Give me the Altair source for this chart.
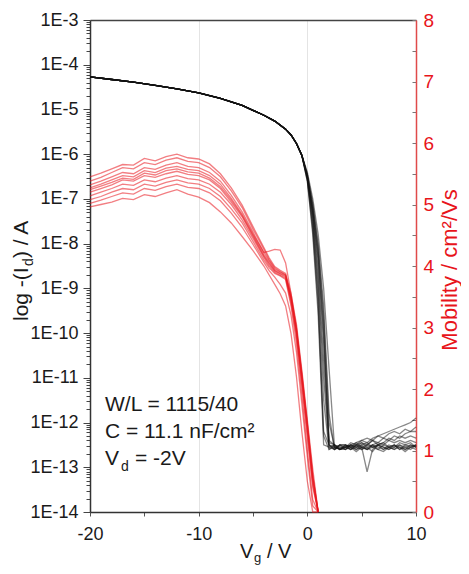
import altair as alt
import pandas as pd

# ---------------- data ----------------
# transfer curves: log10(-Id)
X_ON = [-20, -18, -16, -14, -12, -10, -8, -6, -5, -4, -3, -2, -1.5, -1, -0.5]
LOG_ON = [-4.27, -4.33, -4.39, -4.46, -4.54, -4.63, -4.75, -4.91, -5.02, -5.13,
          -5.26, -5.44, -5.57, -5.76, -6.03]
X_OFF = [0, 0.5, 1, 1.5, 2, 2.5, 3, 3.5, 4, 4.5, 5, 5.5, 6, 6.5, 7, 7.5, 8, 8.5, 9, 9.5, 10]
LOG_OFF = [
    [-6.5, -7.4, -8.8, -11.0, -12.55, -12.6, -12.5, -12.55, -12.6, -12.5, -12.55, -12.6, -12.5, -12.55, -12.6, -12.55, -12.5, -12.6, -12.55, -12.5, -12.55],
    [-6.55, -7.6, -9.2, -12.3, -12.6, -12.5, -12.6, -12.5, -12.55, -12.45, -12.4, -12.35, -12.4, -12.3, -12.25, -12.2, -12.15, -12.1, -12.05, -12.0, -11.9],
    [-6.5, -7.3, -8.4, -10.2, -12.5, -12.55, -12.6, -12.55, -12.5, -12.6, -12.55, -13.1, -12.6, -12.5, -12.55, -12.6, -12.5, -12.55, -12.6, -12.5, -12.55],
    [-6.6, -7.8, -9.6, -12.5, -12.55, -12.5, -12.55, -12.6, -12.5, -12.55, -12.45, -12.5, -12.4, -12.45, -12.35, -12.4, -12.3, -12.35, -12.25, -12.2, -12.1],
    [-6.45, -7.1, -8.0, -9.4, -11.8, -12.6, -12.5, -12.5, -12.6, -12.55, -12.6, -12.5, -12.55, -12.6, -12.5, -12.55, -12.6, -12.5, -12.55, -12.6, -12.5],
    [-6.5, -7.2, -8.2, -9.8, -12.4, -12.5, -12.6, -12.55, -12.45, -12.5, -12.4, -12.45, -12.35, -12.3, -12.35, -12.25, -12.2, -12.25, -12.15, -12.2, -12.2],
    [-6.55, -7.5, -9.0, -11.5, -12.6, -12.55, -12.5, -12.6, -12.55, -12.65, -12.55, -12.6, -12.5, -12.6, -12.65, -12.55, -12.6, -12.55, -12.65, -12.55, -12.6],
    [-6.4, -7.0, -7.8, -9.0, -10.8, -12.55, -12.6, -12.5, -12.55, -12.5, -12.45, -12.55, -12.5, -12.45, -12.5, -12.4, -12.45, -12.4, -12.45, -12.4, -12.45],
    [-6.5, -7.35, -8.6, -10.6, -12.5, -12.6, -12.55, -12.55, -12.6, -12.5, -12.6, -12.55, -12.65, -12.5, -12.55, -12.6, -12.55, -12.5, -12.6, -12.55, -12.5],
    [-6.6, -7.7, -9.4, -12.2, -12.5, -12.6, -12.5, -12.5, -12.55, -12.6, -12.5, -12.45, -12.55, -12.5, -12.6, -12.5, -12.55, -12.45, -12.5, -12.55, -12.5],
    [-6.45, -7.15, -8.1, -9.6, -12.0, -12.55, -12.6, -12.6, -12.5, -12.55, -12.5, -12.6, -12.55, -12.5, -12.45, -12.55, -12.5, -12.6, -12.5, -12.45, -12.55],
    [-6.5, -7.25, -8.3, -10.0, -12.45, -12.5, -12.6, -12.55, -12.5, -12.45, -12.55, -12.5, -12.4, -12.5, -12.45, -12.35, -12.4, -12.3, -12.35, -12.3, -12.35],
]

# mobility curves (cm2/Vs)
RX = [-20, -19, -18, -17, -16, -15, -14, -13, -12, -11, -10, -9, -8, -7, -6, -5, -4,
      -3.5, -3, -2.5, -2, -1.5, -1, -0.5, 0, 0.5, 1]
MOB = [
    [5.45, 5.51, 5.58, 5.65, 5.64, 5.75, 5.71, 5.78, 5.82, 5.76, 5.74, 5.66, 5.50, 5.27, 4.99, 4.64, 4.30, 4.13, 3.99, 3.93, 3.88, 3.55, 3.05, 2.30, 1.50, 0.70, 0.00],
    [5.38, 5.44, 5.52, 5.60, 5.58, 5.68, 5.65, 5.72, 5.76, 5.70, 5.68, 5.60, 5.45, 5.22, 4.95, 4.60, 4.27, 4.10, 3.97, 3.91, 3.86, 3.50, 3.00, 2.25, 1.45, 0.60, 0.00],
    [5.32, 5.38, 5.45, 5.52, 5.50, 5.60, 5.57, 5.64, 5.68, 5.62, 5.60, 5.52, 5.38, 5.15, 4.88, 4.55, 4.22, 4.08, 3.95, 3.90, 3.85, 3.48, 2.95, 2.20, 1.40, 0.55, 0.00],
    [5.27, 5.33, 5.40, 5.47, 5.45, 5.55, 5.52, 5.59, 5.62, 5.57, 5.55, 5.47, 5.33, 5.10, 4.84, 4.52, 4.22, 4.24, 4.27, 4.26, 4.05, 3.55, 2.98, 2.22, 1.42, 0.58, 0.00],
    [5.20, 5.26, 5.32, 5.40, 5.38, 5.47, 5.44, 5.50, 5.54, 5.49, 5.47, 5.40, 5.26, 5.04, 4.80, 4.48, 4.16, 4.03, 3.92, 3.87, 3.82, 3.45, 2.90, 2.10, 1.30, 0.45, 0.00],
    [5.14, 5.20, 5.26, 5.33, 5.31, 5.40, 5.37, 5.43, 5.47, 5.42, 5.40, 5.33, 5.20, 5.00, 4.75, 4.45, 4.14, 4.00, 3.90, 3.85, 3.80, 3.40, 2.85, 2.05, 1.20, 0.40, 0.00],
    [5.08, 5.13, 5.20, 5.26, 5.24, 5.33, 5.30, 5.36, 5.40, 5.35, 5.33, 5.26, 5.13, 4.93, 4.70, 4.40, 4.10, 3.97, 3.88, 3.84, 3.78, 3.35, 2.75, 1.90, 1.00, 0.20, 0.00],
    [5.02, 5.07, 5.13, 5.19, 5.17, 5.26, 5.23, 5.29, 5.33, 5.28, 5.26, 5.19, 5.06, 4.86, 4.63, 4.35, 4.06, 3.92, 3.82, 3.70, 3.56, 3.20, 2.60, 1.75, 0.90, 0.10, 0.00],
    [4.96, 5.00, 5.04, 5.10, 5.08, 5.16, 5.13, 5.19, 5.24, 5.17, 5.12, 5.03, 4.88, 4.70, 4.48, 4.25, 4.00, 3.85, 3.70, 3.55, 3.35, 2.90, 2.20, 1.30, 0.50, 0.00, 0.00],
    [5.24, 5.30, 5.36, 5.43, 5.41, 5.51, 5.48, 5.55, 5.58, 5.53, 5.51, 5.43, 5.29, 5.07, 4.82, 4.50, 4.18, 4.05, 3.93, 3.88, 3.84, 3.47, 2.93, 2.15, 1.35, 0.50, 0.00],
]

# axis ticks
DECADES = [-14, -13, -12, -11, -10, -9, -8, -7, -6, -5, -4, -3]
MINOR = [2, 3, 4, 5, 6, 7, 8, 9]
X_TICKS = [-20, -15, -10, -5, 0, 5, 10]
MOB_TICKS = [0, 0.5, 1, 1.5, 2, 2.5, 3, 3.5, 4, 4.5, 5, 5.5, 6, 6.5, 7, 7.5, 8]

# ---------------- tables ----------------
b_rows = []
for i, tail in enumerate(LOG_OFF):
    for x, v in zip(X_ON + X_OFF, LOG_ON + tail):
        b_rows.append({"curve": f"b{i}", "vg": x, "logI": v})
black_df = pd.DataFrame(b_rows)

r_rows = []
for i, series in enumerate(MOB):
    for x, v in zip(RX, series):
        r_rows.append({"curve": f"r{i}", "vg": x, "mob": v})
red_df = pd.DataFrame(r_rows)

y_vals = []
for d in DECADES:
    y_vals.append(float(f"1e{d}"))
    if d < -3:
        for m in MINOR:
            y_vals.append(float(f"{m}e{d}"))

FONT = "Liberation Sans"
RED = "#e8141b"
IS_DEC = "abs(log(datum.value)/LN10 - round(log(datum.value)/LN10)) < 0.001"

x_scale = alt.Scale(domain=[-20, 10], nice=False)

black = alt.Chart(black_df).transform_calculate(
    Id="pow(10, datum.logI)"
).mark_line(color="#111111", opacity=0.5, strokeWidth=1.3).encode(
    x=alt.X("vg:Q", scale=x_scale, axis=alt.Axis(
        values=X_TICKS, title=None, orient="bottom",
        labelExpr="datum.value % 10 == 0 ? '' + datum.value : ''",
        labelFontSize=18, labelColor="#1a1a1a", labelFont=FONT,
        labelFlush=False, labelOverlap=False, labelPadding=9,
        tickSize=4, tickColor="#555555", domainColor="#333333", domainWidth=1.5,
        grid=True, gridColor="#e4e4e4",
        gridOpacity={"condition": {"test": "datum.value % 10 == 0", "value": 1}, "value": 0},
    )),
    y=alt.Y("Id:Q", scale=alt.Scale(type="log", domain=[1e-14, 1e-3], nice=False), axis=alt.Axis(
        values=y_vals, title=None, orient="left",
        labelExpr=f"{IS_DEC} ? '1E' + round(log(datum.value)/LN10) : ''",
        labelFontSize=18, labelColor="#1a1a1a", labelFont=FONT,
        labelFlush=False, labelOverlap=False, labelPadding=5,
        tickSize={"condition": {"test": IS_DEC, "value": 7}, "value": 4},
        tickColor="#444444", domainColor="#333333", domainWidth=1.5, grid=False,
    )),
    detail="curve:N",
)

red = alt.Chart(red_df).mark_line(color=RED, opacity=0.55, strokeWidth=1.3).encode(
    x=alt.X("vg:Q", scale=x_scale, axis=alt.Axis(
        orient="top", title=None, labels=False, ticks=False, grid=False,
        domainColor="#444444", domainWidth=1.5,
    )),
    y=alt.Y("mob:Q", scale=alt.Scale(domain=[0, 8], nice=False), axis=alt.Axis(
        values=MOB_TICKS, title=None, orient="right",
        labelExpr="datum.value % 1 == 0 ? '' + datum.value : ''",
        labelFontSize=19, labelColor=RED, labelFont=FONT,
        labelFlush=False, labelOverlap=False, labelPadding=11,
        tickSize=alt.ExprRef(expr="-4"), tickColor="#777777",
        domainColor="#e04a4a", domainWidth=1.5, grid=False,
    )),
    detail="curve:N",
)


def label(txt, x, y, size, color="#1a1a1a", angle=0, align="left"):
    return alt.Chart(pd.DataFrame({"t": [txt]})).mark_text(
        fontSize=size, color=color, angle=angle, align=align,
        baseline="alphabetic", font=FONT,
    ).encode(text="t:N", x=alt.value(x), y=alt.value(y))


texts = [
    # annotation
    label("W/L = 1115/40", 15, 391, 21),
    label("C = 11.1 nF/cm\u00b2", 15, 418, 21),
    label("V", 15, 445, 21),
    label("d", 31, 451, 14),
    label("= -2V", 45, 445, 21),
    # x title
    label("V", 150, 538, 20),
    label("g", 164, 542, 13),
    label("/ V", 177, 538, 20),
    # left y title (rotated)
    label("log -(I", -62, 301, 21, angle=270),
    label("d", -57, 246, 14, angle=270),
    label(") / A", -62, 238, 21, angle=270),
    # right y title
    label("Mobility / cm\u00b2/Vs", 367, 250, 22, color=RED, angle=270, align="center"),
]

chart = alt.layer(black, red, *texts).resolve_scale(
    y="independent"
).resolve_axis(
    x="independent"
).properties(
    width=326, height=492,
    padding={"left": 82, "top": 12, "right": 45, "bottom": 54},
    autosize=alt.AutoSizeParams(type="none"),
).configure_view(stroke=None)

chart.save("out.html", embed_options={"renderer": "svg", "actions": False})
